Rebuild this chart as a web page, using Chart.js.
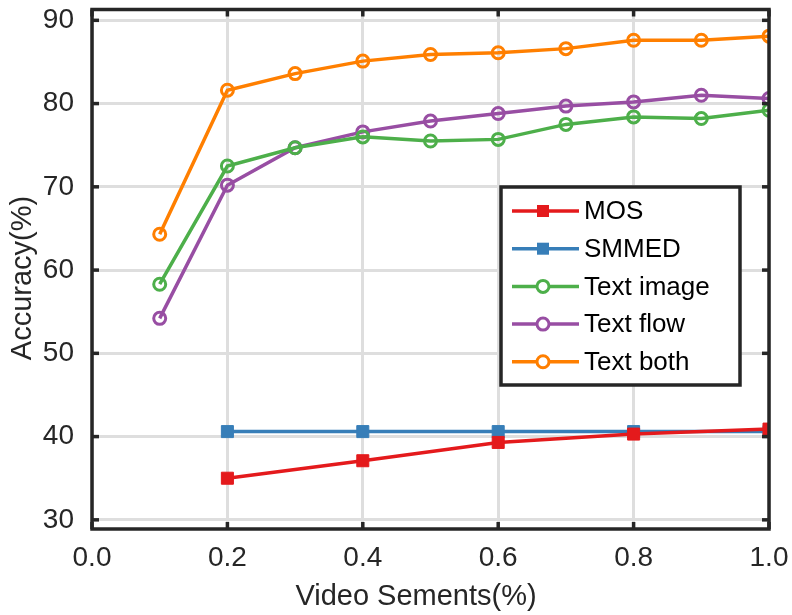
<!DOCTYPE html>
<html><head><meta charset="utf-8">
<script src="https://cdn.jsdelivr.net/npm/chart.js@4/dist/chart.umd.min.js"></script>
<style>html,body{margin:0;padding:0;background:#fff}#wrap{width:792px;height:615px}</style>
</head><body><div id="wrap"><canvas id="c" width="792" height="615"></canvas></div>
<script>
const xText = [0.1,0.2,0.3,0.4,0.5,0.6,0.7,0.8,0.9,1.0];
const xBase = [0.2,0.4,0.6,0.8,1.0];
const mos = [35.0,37.1,39.3,40.3,40.9];
const smmed = [40.6,40.6,40.6,40.6,40.6];
const textImage = [58.3,72.5,74.7,76.0,75.5,75.7,77.5,78.4,78.2,79.2];
const textFlow = [54.2,70.2,74.7,76.6,77.9,78.8,79.7,80.2,81.0,80.6];
const textBoth = [64.3,81.6,83.6,85.1,85.9,86.1,86.6,87.6,87.6,88.1];
const xTicks = [0.0,0.2,0.4,0.6,0.8,1.0];
const yTicks = [30,40,50,60,70,80,90];
const seriesNames = ['MOS','SMMED','Text image','Text flow','Text both'];
const colors = ['#e41a1c','#377eb8','#4daf4a','#984ea3','#ff7f00'];
const xTitle = 'Video Sements(%)';
const yTitle = 'Accuracy(%)';

const pts = (xs, ys) => xs.map((x,i)=>({x:x,y:ys[i]}));
const FONT = "'Liberation Sans', Arial, sans-serif";
const TXT = '#262626';

function ds(name, data, color, square){
  return {label:name, data:data, borderColor:color, borderWidth:3.5,
    backgroundColor: square ? color : '#fff',
    pointStyle: square ? 'rect' : 'circle',
    pointRadius: square ? 8.5 : 6, pointBorderWidth: square ? 1 : 3,
    pointBorderColor: color, pointBackgroundColor: square ? color : 'rgba(255,255,255,0)',
    tension:0, fill:false};
}

const frame = {
  id:'frame',
  afterDatasetsDraw(chart){
    const {ctx, chartArea:a, scales} = chart;
    ctx.save();
    ctx.strokeStyle = TXT; ctx.lineWidth = 3.5;
    ctx.strokeRect(a.left, a.top, a.right-a.left, a.bottom-a.top);
    const tl = 7;
    xTicks.forEach(v=>{
      const px = scales.x.getPixelForValue(v);
      ctx.beginPath(); ctx.moveTo(px,a.bottom); ctx.lineTo(px,a.bottom-tl); ctx.stroke();
      ctx.beginPath(); ctx.moveTo(px,a.top); ctx.lineTo(px,a.top+tl); ctx.stroke();
    });
    yTicks.forEach(v=>{
      const py = scales.y.getPixelForValue(v);
      ctx.beginPath(); ctx.moveTo(a.left,py); ctx.lineTo(a.left+tl,py); ctx.stroke();
      ctx.beginPath(); ctx.moveTo(a.right,py); ctx.lineTo(a.right-tl,py); ctx.stroke();
    });
    // axis titles
    ctx.fillStyle=TXT; ctx.font='29px '+FONT;
    ctx.textAlign='center'; ctx.textBaseline='alphabetic';
    ctx.fillText(xTitle, 416, 605);
    ctx.save(); ctx.translate(31, 278); ctx.rotate(-Math.PI/2);
    ctx.fillText(yTitle, 0, 0); ctx.restore();
    // legend
    const bx=501, by=187, bw=239, bh=198;
    ctx.fillStyle='#fff'; ctx.fillRect(bx,by,bw,bh);
    ctx.strokeStyle=TXT; ctx.lineWidth=3.5; ctx.strokeRect(bx,by,bw,bh);
    chart.data.datasets.forEach((d,i)=>{
      const y = 211 + i*37.7;
      ctx.strokeStyle=d.borderColor; ctx.lineWidth=3.5;
      ctx.beginPath(); ctx.moveTo(512,y); ctx.lineTo(579,y); ctx.stroke();
      if(d.pointStyle==='rect'){
        ctx.fillStyle=d.borderColor; ctx.fillRect(537,y-6,12,12);
      } else {
        ctx.fillStyle='#fff'; ctx.lineWidth=3;
        ctx.beginPath(); ctx.arc(543,y,6,0,Math.PI*2); ctx.fill(); ctx.stroke();
      }
      ctx.fillStyle='#000'; ctx.font='26px '+FONT; ctx.textBaseline='middle'; ctx.textAlign='left';
      ctx.fillText(d.label, 584, y+1);
    });
    ctx.restore();
  }
};

new Chart(document.getElementById('c'), {
  type:'line',
  data:{datasets:[
    ds(seriesNames[0], pts(xBase,mos), colors[0], true),
    ds(seriesNames[1], pts(xBase,smmed), colors[1], true),
    ds(seriesNames[2], pts(xText,textImage), colors[2], false),
    ds(seriesNames[3], pts(xText,textFlow), colors[3], false),
    ds(seriesNames[4], pts(xText,textBoth), colors[4], false)
  ]},
  options:{
    responsive:false, animation:false, devicePixelRatio:1,
    layout:{padding:{top:6,right:23,left:0,bottom:0}},
    plugins:{legend:{display:false}, tooltip:{enabled:false}},
    scales:{
      x:{type:'linear', min:0, max:1.0,
        afterBuildTicks(s){ s.ticks = xTicks.map(v=>({value:v})); },
        afterFit(s){ s.height = 86; s.paddingLeft=0; s.paddingRight=0; },
        grid:{color:'#dedede', lineWidth:3, drawTicks:false},
        border:{display:false},
        ticks:{padding:12, color:TXT, font:{family:FONT,size:28}, callback:v=>Number(v).toFixed(1), maxRotation:0},
        title:{display:false}
      },
      y:{type:'linear', min:28.9, max:91.3,
        afterBuildTicks(s){ s.ticks = yTicks.map(v=>({value:v})); },
        afterFit(s){ s.width = 92; s.paddingTop=0; s.paddingBottom=0; },
        grid:{color:'#dedede', lineWidth:3, drawTicks:false},
        border:{display:false},
        ticks:{padding:18, color:TXT, font:{family:FONT,size:28}},
        title:{display:false}
      }
    }
  },
  plugins:[frame]
});
</script></body></html>
